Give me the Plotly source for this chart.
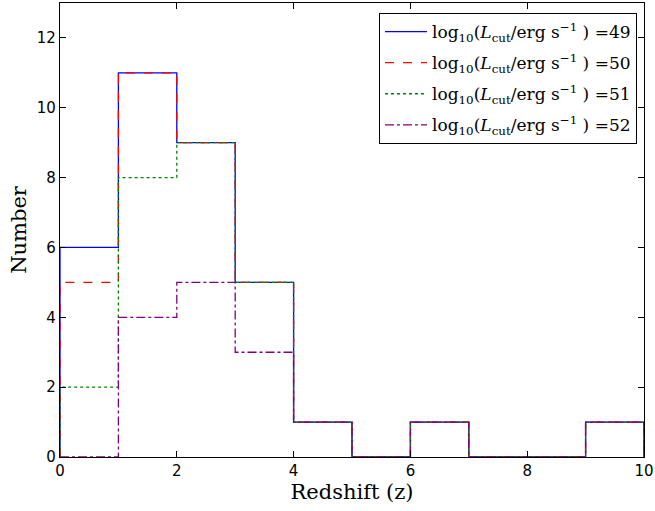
import plotly.graph_objects as go

bin_edges = [0, 1, 2, 3, 4, 5, 6, 7, 8, 9, 10]
counts_49 = [6, 11, 9, 5, 1, 0, 1, 0, 0, 1]
counts_50 = [5, 11, 9, 5, 1, 0, 1, 0, 0, 1]
counts_51 = [2, 8, 9, 5, 1, 0, 1, 0, 0, 1]
counts_52 = [0, 4, 5, 3, 1, 0, 1, 0, 0, 1]
labels = ["49", "50", "51", "52"]
colors = ["#0000ff", "#ff0000", "#008000", "#800080"]
dashes = ["solid", "dash", "dot", "dashdot"]


def step_xy(edges, counts):
    xs = [edges[0]] + list(edges[:-1]) + [edges[-1], edges[-1]]
    ys = [0] + list(counts) + [counts[-1], 0]
    return xs, ys


fig = go.Figure()
for counts, lab, col, dsh in zip([counts_49, counts_50, counts_51, counts_52], labels, colors, dashes):
    xs, ys = step_xy(bin_edges, counts)
    fig.add_trace(go.Scatter(
        x=xs, y=ys, mode="lines", line_shape="hv",
        line=dict(color=col, width=1.3, dash=dsh),
        legendgroup="g" + lab,
        name="log<sub>10</sub>(<i>L</i><sub>cut</sub>/erg s<sup>−1</sup> ) =" + lab,
    ))

axis_common = dict(
    showgrid=False, zeroline=False, showline=True, linecolor="black", linewidth=1.2,
    mirror="ticks", ticks="inside", ticklen=6, tickcolor="black", tickwidth=1,
    tickfont=dict(family="DejaVu Sans", size=15, color="black"),
    automargin=False,
)

fig.update_layout(
    width=655, height=511,
    margin=dict(l=60, r=11, t=3, b=54),
    paper_bgcolor="white", plot_bgcolor="white",
    xaxis=dict(range=[0, 10], tickvals=[0, 2, 4, 6, 8, 10],
               title=dict(text="Redshift (z)", font=dict(family="DejaVu Serif", size=21, color="black"), standoff=4),
               **axis_common),
    yaxis=dict(range=[0, 13], tickvals=[0, 2, 4, 6, 8, 10, 12],
               title=dict(text="Number", font=dict(family="DejaVu Serif", size=21, color="black"), standoff=4),
               **axis_common),
    legend=dict(x=0.988, y=0.978, xanchor="right", yanchor="top",
                bgcolor="white", bordercolor="black", borderwidth=1,
                font=dict(family="DejaVu Serif", size=17, color="black"),
                tracegroupgap=6, itemwidth=42),
    showlegend=True,
)

fig.write_html("out.html", config={"displayModeBar": False},
               post_script="document.body.style.margin='0px';")
